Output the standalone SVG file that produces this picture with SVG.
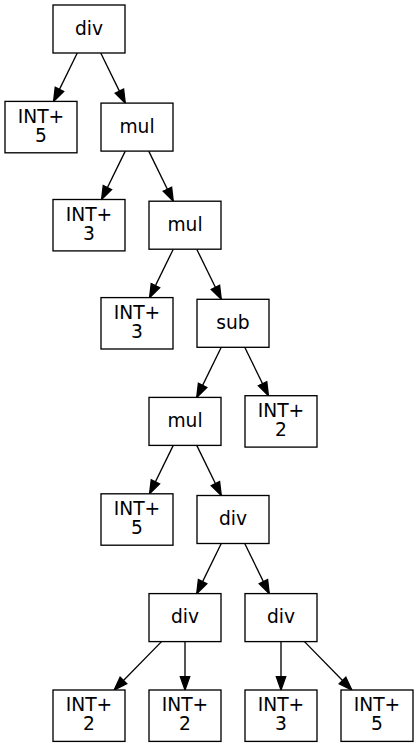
<svg xmlns="http://www.w3.org/2000/svg" width="419" height="747" viewBox="0 0 419 747">
  <style>
    .node rect { fill: #ffffff; stroke: #000000; stroke-width: 1.33; }
    .node text { font-family: "DejaVu Sans", "Liberation Sans", sans-serif; font-size: 18.67px; fill: #000000; text-anchor: middle; }
    .edges line { stroke: #000000; stroke-width: 1.33; marker-end: url(#arrow); }
  </style>
  <defs>
    <marker id="arrow" markerUnits="userSpaceOnUse" markerWidth="16" markerHeight="12" viewBox="-1 -6 16 12" refX="13.33" refY="0" orient="auto">
      <path d="M0,-4.67 L13.33,0 L0,4.67 Z" fill="#000000" stroke="#000000" stroke-width="1.33"/>
    </marker>
  </defs>
  <rect width="419" height="747" fill="#ffffff"/>

  <g class="edges">
    <line x1="77.26" y1="53" x2="53.58" y2="101.4"/>
    <line x1="100.74" y1="53" x2="125.26" y2="103.1"/>
    <line x1="125.26" y1="151.1" x2="101.58" y2="199.5"/>
    <line x1="148.74" y1="151.1" x2="173.26" y2="201.2"/>
    <line x1="173.26" y1="249.2" x2="149.58" y2="297.6"/>
    <line x1="196.74" y1="249.2" x2="221.26" y2="299.3"/>
    <line x1="221.26" y1="347.3" x2="196.74" y2="397.4"/>
    <line x1="244.74" y1="347.3" x2="268.42" y2="395.7"/>
    <line x1="173.26" y1="445.4" x2="149.58" y2="493.8"/>
    <line x1="196.74" y1="445.4" x2="221.26" y2="495.5"/>
    <line x1="221.26" y1="543.5" x2="196.74" y2="593.6"/>
    <line x1="244.74" y1="543.5" x2="269.26" y2="593.6"/>
    <line x1="161.52" y1="641.6" x2="114.15" y2="690"/>
    <line x1="185" y1="641.6" x2="185" y2="690"/>
    <line x1="281" y1="641.6" x2="281" y2="690"/>
    <line x1="304.48" y1="641.6" x2="351.85" y2="690"/>
  </g>

  <!-- rank 0 -->
  <g id="n0" class="node"><rect x="53" y="5" width="72" height="48"/><text x="89" y="34.5">div</text></g>
  <!-- rank 1 -->
  <g id="n1" class="node"><rect x="5" y="101.4" width="72" height="51.4"/><text x="41" y="122.7">INT+</text><text x="41" y="141.7">5</text></g>
  <g id="n2" class="node"><rect x="101" y="103.1" width="72" height="48"/><text x="137" y="132.6">mul</text></g>
  <!-- rank 2 -->
  <g id="n3" class="node"><rect x="53" y="199.5" width="72" height="51.4"/><text x="89" y="220.8">INT+</text><text x="89" y="239.8">3</text></g>
  <g id="n4" class="node"><rect x="149" y="201.2" width="72" height="48"/><text x="185" y="230.7">mul</text></g>
  <!-- rank 3 -->
  <g id="n5" class="node"><rect x="101" y="297.6" width="72" height="51.4"/><text x="137" y="318.9">INT+</text><text x="137" y="337.9">3</text></g>
  <g id="n6" class="node"><rect x="197" y="299.3" width="72" height="48"/><text x="233" y="328.8">sub</text></g>
  <!-- rank 4 -->
  <g id="n7" class="node"><rect x="149" y="397.4" width="72" height="48"/><text x="185" y="426.9">mul</text></g>
  <g id="n8" class="node"><rect x="245" y="395.7" width="72" height="51.4"/><text x="281" y="417">INT+</text><text x="281" y="436">2</text></g>
  <!-- rank 5 -->
  <g id="n9" class="node"><rect x="101" y="493.8" width="72" height="51.4"/><text x="137" y="515.1">INT+</text><text x="137" y="534.1">5</text></g>
  <g id="n10" class="node"><rect x="197" y="495.5" width="72" height="48"/><text x="233" y="525">div</text></g>
  <!-- rank 6 -->
  <g id="n11" class="node"><rect x="149" y="593.6" width="72" height="48"/><text x="185" y="623.1">div</text></g>
  <g id="n12" class="node"><rect x="245" y="593.6" width="72" height="48"/><text x="281" y="623.1">div</text></g>
  <!-- rank 7 -->
  <g id="n13" class="node"><rect x="53" y="690" width="72" height="51.4"/><text x="89" y="711.3">INT+</text><text x="89" y="730.3">2</text></g>
  <g id="n14" class="node"><rect x="149" y="690" width="72" height="51.4"/><text x="185" y="711.3">INT+</text><text x="185" y="730.3">2</text></g>
  <g id="n15" class="node"><rect x="245" y="690" width="72" height="51.4"/><text x="281" y="711.3">INT+</text><text x="281" y="730.3">3</text></g>
  <g id="n16" class="node"><rect x="341" y="690" width="72" height="51.4"/><text x="377" y="711.3">INT+</text><text x="377" y="730.3">5</text></g>
</svg>
